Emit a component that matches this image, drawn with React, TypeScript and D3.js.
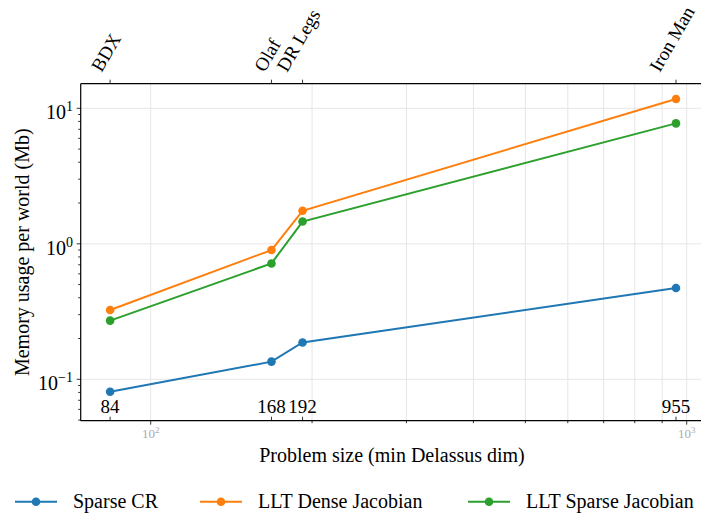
import React, { useEffect, useRef } from 'react';
import * as d3 from 'd3';

// problem sizes (min Delassus dim) and robot names on the top axis
const sizes = [84, 168, 192, 955];
const robots = ['BDX', 'Olaf', 'DR Legs', 'Iron Man'];

// memory usage per world (Mb)
const sparseCR = [0.081, 0.135, 0.187, 0.472];
const lltDense = [0.325, 0.899, 1.752, 11.7];
const lltSparse = [0.271, 0.716, 1.46, 7.74];

const seriesNames = ['Sparse CR', 'LLT Dense Jacobian', 'LLT Sparse Jacobian'];
const seriesColors = ['#1f77b4', '#ff7f0e', '#2ca02c'];

const xMinorTicks = [200, 300, 400, 500, 600, 700, 800, 900];
const xMajorTicks = [100, 1000];
const yMajorTicks = [0.1, 1, 10];
const yMajorLabels = ['\u22121', '0', '1'];

const FONT = '"Liberation Serif", "DejaVu Serif", serif';

export default function App() {
  const ref = useRef<SVGSVGElement>(null);

  useEffect(() => {
    const svg = d3.select(ref.current);
    svg.selectAll('*').remove();

    const left = 80.7, right = 705, top = 83.7, bottom = 420.7;

    const x = d3.scaleLog().domain([100, 1000]).range([150.7, 686.7]);
    const y = d3.scaleLog().domain([0.1, 10]).range([379.3, 108.3]);

    const g = svg.append('g');

    // grid
    const gridX = xMajorTicks.concat(xMinorTicks);
    g.selectAll('line.gx').data(gridX).enter().append('line')
      .attr('x1', d => x(d)).attr('x2', d => x(d))
      .attr('y1', top).attr('y2', bottom)
      .attr('stroke', '#e6e6e6').attr('stroke-width', 1);
    g.selectAll('line.gy').data(yMajorTicks).enter().append('line')
      .attr('x1', left).attr('x2', right)
      .attr('y1', d => y(d)).attr('y2', d => y(d))
      .attr('stroke', '#e6e6e6').attr('stroke-width', 1);

    // series
    const all = [sparseCR, lltDense, lltSparse];
    const line = d3.line<number>()
      .x((d, i) => x(sizes[i]))
      .y(d => y(d));
    all.forEach((vals, k) => {
      g.append('path').datum(vals)
        .attr('d', line)
        .attr('fill', 'none')
        .attr('stroke', seriesColors[k])
        .attr('stroke-width', 2);
      g.selectAll('circle.s' + k).data(vals).enter().append('circle')
        .attr('cx', (d, i) => x(sizes[i]))
        .attr('cy', d => y(d))
        .attr('r', 4.3)
        .attr('fill', seriesColors[k]);
    });

    // spines
    g.append('line').attr('x1', left).attr('x2', right).attr('y1', top).attr('y2', top)
      .attr('stroke', '#000').attr('stroke-width', 1.2);
    g.append('line').attr('x1', left).attr('x2', right).attr('y1', bottom).attr('y2', bottom)
      .attr('stroke', '#000').attr('stroke-width', 1.2);
    g.append('line').attr('x1', left).attr('x2', left).attr('y1', top).attr('y2', bottom)
      .attr('stroke', '#000').attr('stroke-width', 1.2);

    // bottom log ticks (outward)
    g.selectAll('line.xmin').data(xMinorTicks).enter().append('line')
      .attr('x1', d => x(d)).attr('x2', d => x(d))
      .attr('y1', bottom).attr('y2', bottom + 2.5)
      .attr('stroke', '#000').attr('stroke-width', 0.8);
    g.selectAll('line.xmaj').data(xMajorTicks).enter().append('line')
      .attr('x1', d => x(d)).attr('x2', d => x(d))
      .attr('y1', bottom).attr('y2', bottom + 4)
      .attr('stroke', '#000').attr('stroke-width', 0.8);
    xMajorTicks.forEach(v => {
      const t = g.append('text')
        .attr('x', x(v)).attr('y', 438)
        .attr('text-anchor', 'middle')
        .attr('font-family', FONT).attr('font-size', 13)
        .attr('fill', '#aaaaaa');
      t.append('tspan').text('10');
      t.append('tspan').attr('dy', -5).attr('font-size', 9).text(String(Math.log10(v)));
    });

    // custom size ticks (inward) with labels inside
    g.selectAll('line.xs').data(sizes).enter().append('line')
      .attr('x1', d => x(d)).attr('x2', d => x(d))
      .attr('y1', bottom).attr('y2', bottom - 4)
      .attr('stroke', '#000').attr('stroke-width', 0.8);
    g.selectAll('text.xs').data(sizes).enter().append('text')
      .attr('x', d => x(d)).attr('y', 413)
      .attr('text-anchor', 'middle')
      .attr('font-family', FONT).attr('font-size', 19)
      .text(d => String(d));

    // top ticks and rotated robot names
    g.selectAll('line.xt').data(sizes).enter().append('line')
      .attr('x1', d => x(d)).attr('x2', d => x(d))
      .attr('y1', top).attr('y2', top - 4)
      .attr('stroke', '#000').attr('stroke-width', 0.8);
    robots.forEach((name, i) => {
      const t = g.append('text')
        .attr('font-family', FONT).attr('font-size', 19)
        .text(name);
      const w = (t.node() as SVGTextElement).getComputedTextLength();
      const sx = x(sizes[i]) - 0.25 * w + 1.5;
      const sy = 73;
      t.attr('transform', `translate(${sx},${sy}) rotate(-60)`);
    });

    // y ticks
    const yMinor: number[] = [];
    [0.01, 0.1, 1, 10].forEach(dec => {
      for (let m = 2; m <= 9; m++) yMinor.push(dec * m);
    });
    const yMinorIn = yMinor.filter(v => y(v) >= top && y(v) <= bottom);
    g.selectAll('line.ymin').data(yMinorIn).enter().append('line')
      .attr('x1', left).attr('x2', left - 2.5)
      .attr('y1', d => y(d)).attr('y2', d => y(d))
      .attr('stroke', '#000').attr('stroke-width', 0.8);
    g.selectAll('line.ymaj').data(yMajorTicks).enter().append('line')
      .attr('x1', left).attr('x2', left - 4)
      .attr('y1', d => y(d)).attr('y2', d => y(d))
      .attr('stroke', '#000').attr('stroke-width', 0.8);
    yMajorTicks.forEach((v, i) => {
      const t = g.append('text')
        .attr('x', 73).attr('y', y(v) + 11)
        .attr('text-anchor', 'end')
        .attr('font-family', FONT).attr('font-size', 20);
      t.append('tspan').text('10');
      t.append('tspan').attr('dy', -8).attr('font-size', 14).text(yMajorLabels[i]);
    });

    // axis labels
    g.append('text')
      .attr('x', 392).attr('y', 462)
      .attr('text-anchor', 'middle')
      .attr('font-family', FONT).attr('font-size', 20)
      .text('Problem size (min Delassus dim)');
    g.append('text')
      .attr('transform', `translate(29,${(top + bottom) / 2}) rotate(-90)`)
      .attr('text-anchor', 'middle')
      .attr('font-family', FONT).attr('font-size', 20)
      .text('Memory usage per world (Mb)');

    // legend
    const legendX = [15, 200, 468];
    seriesNames.forEach((name, k) => {
      const lx = legendX[k];
      const ly = 501.7;
      g.append('line').attr('x1', lx).attr('x2', lx + 42).attr('y1', ly).attr('y2', ly)
        .attr('stroke', seriesColors[k]).attr('stroke-width', 2);
      g.append('circle').attr('cx', lx + 21).attr('cy', ly).attr('r', 4.3)
        .attr('fill', seriesColors[k]);
      g.append('text')
        .attr('x', lx + 58).attr('y', 508)
        .attr('font-family', FONT).attr('font-size', 20)
        .text(name);
    });
  }, []);

  return (
    <svg
      ref={ref}
      width={701}
      height={516}
      style={{ position: 'absolute', left: 0, top: 0, background: '#fff' }}
    />
  );
}
